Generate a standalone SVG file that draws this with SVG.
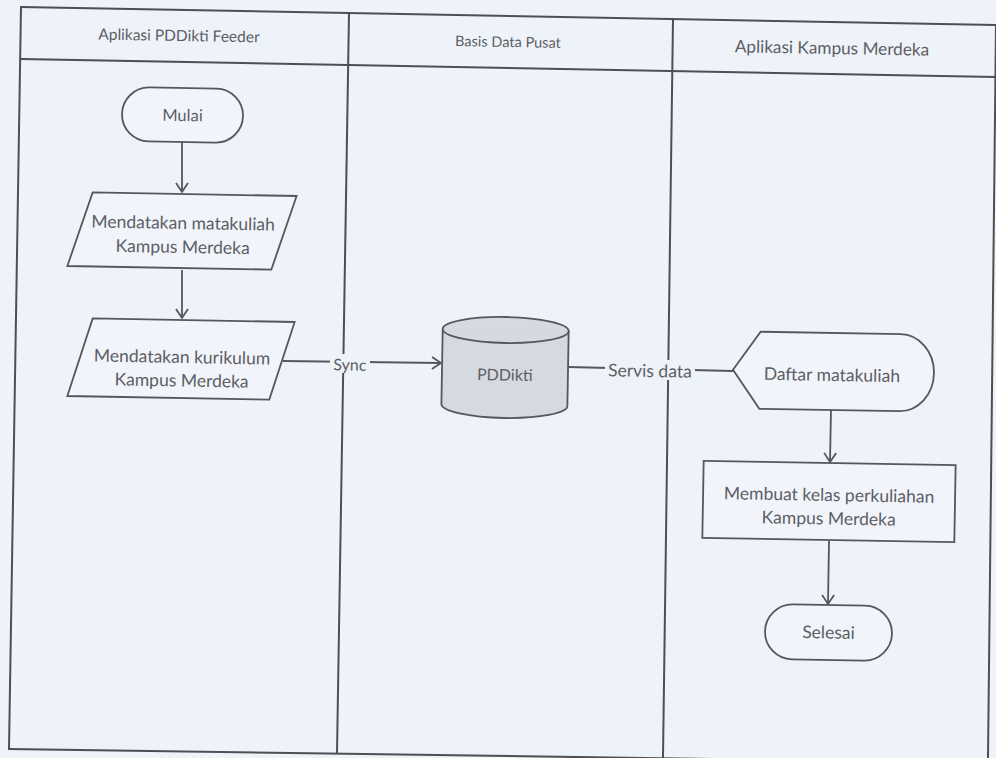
<svg xmlns="http://www.w3.org/2000/svg" width="996" height="758" viewBox="0 0 996 758">
<defs>
<style>
.bg{fill:#eef2f9}
.frame{stroke:#4d4f55;stroke-width:2;fill:none;stroke-linecap:square}
.shape{fill:#f1f4fa;stroke:#55575c;stroke-width:1.8}
.db{fill:#d5d9e0;stroke:#55575c;stroke-width:1.8}
.edge{stroke:#55575c;stroke-width:1.8;fill:none}
.t{font-family:Lato,"Open Sans",sans-serif;font-size:17.5px;fill:#5c5e64;text-anchor:middle}
.h{font-family:Lato,"Open Sans",sans-serif;font-size:16px;fill:#5c5e64;text-anchor:middle}
.lbl{fill:#eef2f9}
</style>
<marker id="arr" markerUnits="userSpaceOnUse" markerWidth="16" markerHeight="16" refX="10" refY="7" orient="auto">
<path d="M1,1 L10,7 L1,13" fill="none" stroke="#55575c" stroke-width="1.8"/>
</marker>
</defs>
<rect class="bg" x="0" y="0" width="996" height="758"/>
<g id="lanes">
<path class="frame" d="M21,7 L996,25"/>
<path class="frame" d="M21,59 L996,77"/>
<path class="frame" d="M21,7 L9,749"/>
<path class="frame" d="M9,749 L996,763"/>
<path class="frame" d="M996,25 L988,758"/>
<path class="frame" d="M349,13 L337,753"/>
<path class="frame" d="M673,19 L663,757"/>
<text class="h" x="179" y="41" transform="rotate(1,179,36)" style="font-size:15.5px">Aplikasi PDDikti Feeder</text>
<text class="h" x="508" y="47" transform="rotate(1,508,42)" style="font-size:14.5px">Basis Data Pusat</text>
<text class="h" x="832" y="54" transform="rotate(1,832,49)" style="font-size:17.2px">Aplikasi Kampus Merdeka</text>
</g>
<g id="connectors">
<path class="edge" d="M182,142 L182,192" marker-end="url(#arr)"/>
<path class="edge" d="M182,270 L182,318" marker-end="url(#arr)"/>
<path class="edge" d="M283,361 L441,363" marker-end="url(#arr)"/>
<rect class="lbl" x="330" y="354" width="40" height="19"/>
<text class="t" x="350" y="370.5" transform="rotate(1,350,365)" style="font-size:16px">Sync</text>
<path class="edge" d="M568,367 L733,371"/>
<rect class="lbl" x="605" y="360" width="90" height="20"/>
<text class="t" x="650" y="377" transform="rotate(1,650,371)">Servis data</text>
<path class="edge" d="M831,410 L830,462" marker-end="url(#arr)"/>
<path class="edge" d="M829,541 L828,604" marker-end="url(#arr)"/>
</g>
<g id="mulai" transform="rotate(1,182.5,115)">
<rect class="shape" x="122" y="88" width="121" height="54" rx="27"/>
<text class="t" x="182.5" y="121" style="font-size:16.5px">Mulai</text>
</g>
<g id="mendatakan-matakuliah" transform="rotate(1,182,231)">
<path class="shape" d="M92,194 L296,194 L272,268 L68,268 Z"/>
<text class="t" x="183" y="229">Mendatakan matakuliah</text>
<text class="t" x="183" y="253">Kampus Merdeka</text>
</g>
<g id="mendatakan-kurikulum" transform="rotate(1,181,359)">
<path class="shape" d="M92,320 L294,320 L270,398 L68,398 Z"/>
<text class="t" x="182" y="363">Mendatakan kurikulum</text>
<text class="t" x="182" y="386.5">Kampus Merdeka</text>
</g>
<g id="pddikti" transform="rotate(1,505,370)">
<path class="db" d="M442,330 L442,405 A63,13 0 0 0 568,405 L568,330 A63,13 0 0 0 442,330 Z"/>
<path class="db" d="M442,330 A63,13 0 0 0 568,330" fill="none"/>
<text class="t" x="505" y="380.5" style="font-size:16px">PDDikti</text>
</g>
<g id="daftar-matakuliah" transform="rotate(1,832,371)">
<path class="shape" d="M733,371.5 L760,333 L900,333 A34,38.5 0 0 1 900,410 L760,410 Z"/>
<text class="t" x="832" y="381">Daftar matakuliah</text>
</g>
<g id="membuat-kelas" transform="rotate(1,829,501)">
<rect class="shape" x="703" y="463" width="252" height="77"/>
<text class="t" x="829" y="501">Membuat kelas perkuliahan</text>
<text class="t" x="829" y="524.5">Kampus Merdeka</text>
</g>
<g id="selesai" transform="rotate(1,828.5,632.5)">
<rect class="shape" x="765" y="605" width="127" height="55" rx="27.5"/>
<text class="t" x="828.5" y="638.5">Selesai</text>
</g>
</svg>
